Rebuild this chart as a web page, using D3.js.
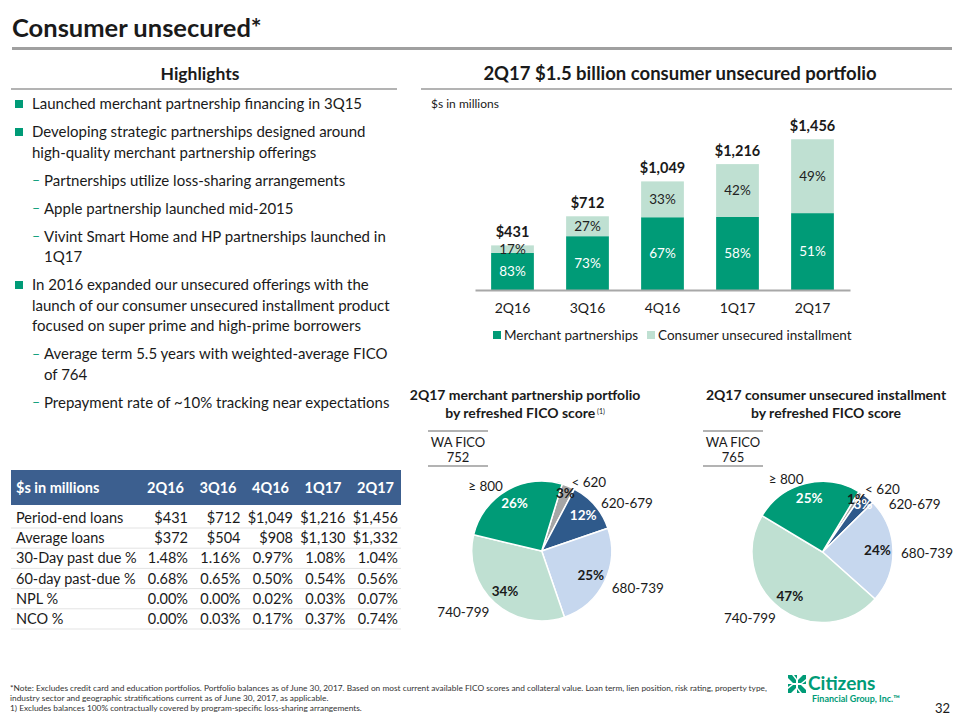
<!DOCTYPE html>
<html><head><meta charset="utf-8">
<script src="https://cdn.jsdelivr.net/npm/d3@7/dist/d3.min.js"></script>
<style>
body{margin:0;background:#fff}
svg{display:block}
text{font-family:Lato,"Open Sans",sans-serif;fill:#1a1a1a}
</style>
</head><body>
<svg id="chart" width="960" height="720"></svg>
<script>
// ---------------- DATA ----------------
const quarters = ["2Q16", "3Q16", "4Q16", "1Q17", "2Q17"];
const totals = [431, 712, 1049, 1216, 1456];
const merchantPct = [83, 73, 67, 58, 51];
const installmentPct = [17, 27, 33, 42, 49];
const seriesNames = ["Merchant partnerships", "Consumer unsecured installment"];

const ficoBands = ["< 620", "620-679", "680-739", "740-799", "≥ 800"];
const merchantFico = [3, 12, 25, 34, 26];
const installmentFico = [1, 3, 24, 47, 25];
const waFico = [752, 765];

const tableRowLabels = ["Period-end loans", "Average loans", "30-Day past due %", "60-day past-due %", "NPL %", "NCO %"];
const periodEndLoans = [431, 712, 1049, 1216, 1456];
const averageLoans = [372, 504, 908, 1130, 1332];
const pastDue30 = [1.48, 1.16, 0.97, 1.08, 1.04];
const pastDue60 = [0.68, 0.65, 0.50, 0.54, 0.56];
const nplPct = [0.00, 0.00, 0.02, 0.03, 0.07];
const ncoPct = [0.00, 0.03, 0.17, 0.37, 0.74];

const highlights = [
  [1, ["Launched merchant partnership financing in 3Q15"]],
  [1, ["Developing strategic partnerships designed around", "high-quality merchant partnership offerings"]],
  [2, ["Partnerships utilize loss-sharing arrangements"]],
  [2, ["Apple partnership launched mid-2015"]],
  [2, ["Vivint Smart Home and HP partnerships launched in", "1Q17"]],
  [1, ["In 2016 expanded our unsecured offerings with the", "launch of our consumer unsecured installment product", "focused on super prime and high-prime borrowers"]],
  [2, ["Average term 5.5 years with weighted-average FICO", "of 764"]],
  [2, ["Prepayment rate of ~10% tracking near expectations"]]
];

const footnotes = [
  "*Note: Excludes credit card and education portfolios. Portfolio balances as of June 30, 2017. Based on most current available FICO scores and collateral value. Loan term, lien position, risk rating, property type,",
  "industry sector and geographic stratifications current as of June 30, 2017, as applicable.",
  "1)  Excludes balances 100% contractually covered by program-specific loss-sharing arrangements."
];

// ---------------- STYLE ----------------
const GREEN = "#009b77", LIGHT_GREEN = "#bfe0d2", DARK_BLUE = "#2f5a8b",
      LIGHT_BLUE = "#c6d7ee", GRAY = "#a6a6a6", HEAD_BLUE = "#3c5f8f", RULE = "#b3b3b3";
const ficoColors = [GRAY, DARK_BLUE, LIGHT_BLUE, LIGHT_GREEN, GREEN];
const ficoInnerText = ["#1a1a1a", "#fff", "#1a1a1a", "#1a1a1a", "#fff"];

const svg = d3.select("#chart");

// ---------------- TITLE & HEADERS ----------------
svg.append("text").attr("x", 12).attr("y", 37).attr("font-size", 25.5).attr("font-weight", 700)
  .text("Consumer unsecured*");
svg.append("line").attr("x1", 12).attr("x2", 952).attr("y1", 48.5).attr("y2", 48.5)
  .attr("stroke", "#a0a0a0").attr("stroke-width", 3);

svg.append("text").attr("x", 200).attr("y", 74).attr("dy", "0.35em").attr("text-anchor", "middle")
  .attr("font-size", 17.5).attr("font-weight", 700).text("Highlights");
svg.append("line").attr("x1", 11).attr("x2", 397).attr("y1", 89).attr("y2", 89)
  .attr("stroke", RULE).attr("stroke-width", 2);
svg.append("text").attr("x", 680).attr("y", 74).attr("dy", "0.35em").attr("text-anchor", "middle")
  .attr("font-size", 18.5).attr("font-weight", 700).text("2Q17 $1.5 billion consumer unsecured portfolio");
svg.append("line").attr("x1", 421).attr("x2", 952).attr("y1", 89).attr("y2", 89)
  .attr("stroke", RULE).attr("stroke-width", 2);

// ---------------- HIGHLIGHTS ----------------
{
  let y = 104;
  const lh = 20.5, gap = 28;
  const g = svg.append("g");
  highlights.forEach(([lvl, lines], i) => {
    if (i > 0) y += gap;
    if (lvl === 1) {
      g.append("rect").attr("x", 15).attr("y", y - 4).attr("width", 8).attr("height", 8).attr("fill", GREEN);
    } else {
      g.append("text").attr("x", 32).attr("y", y).attr("dy", "0.35em").attr("font-size", 14)
        .style("fill", GREEN).text("–");
    }
    const tx = lvl === 1 ? 32 : 44;
    lines.forEach((ln, j) => {
      if (j > 0) y += lh;
      g.append("text").attr("x", tx).attr("y", y).attr("dy", "0.35em").attr("font-size", 15).text(ln);
    });
  });
}

// ---------------- BAR CHART ----------------
svg.append("text").attr("x", 431).attr("y", 104).attr("dy", "0.35em").attr("font-size", 12).text("$s in millions");

const x = d3.scaleBand().domain(quarters).range([475, 850]).paddingInner(0.43).paddingOuter(0.215);
const y = d3.scaleLinear().domain([0, 1500]).range([290, 134.7]);

const barData = quarters.map((q, i) => {
  const m = totals[i] * merchantPct[i] / 100;
  return { q, total: totals[i], m, mp: merchantPct[i], ip: installmentPct[i] };
});

const bars = svg.append("g");
bars.selectAll("rect.m").data(barData).join("rect").attr("class", "m")
  .attr("x", d => x(d.q)).attr("width", x.bandwidth())
  .attr("y", d => y(d.m)).attr("height", d => y(0) - y(d.m)).attr("fill", GREEN);
bars.selectAll("rect.i").data(barData).join("rect").attr("class", "i")
  .attr("x", d => x(d.q)).attr("width", x.bandwidth())
  .attr("y", d => y(d.total)).attr("height", d => y(d.m) - y(d.total)).attr("fill", LIGHT_GREEN);
bars.selectAll("text.mp").data(barData).join("text").attr("class", "mp")
  .attr("x", d => x(d.q) + x.bandwidth() / 2).attr("y", d => (y(0) + y(d.m)) / 2).attr("dy", "0.35em")
  .attr("text-anchor", "middle").attr("font-size", 13.5).style("fill", "#fff").text(d => d.mp + "%");
bars.selectAll("text.ip").data(barData).join("text").attr("class", "ip")
  .attr("x", d => x(d.q) + x.bandwidth() / 2).attr("y", d => (y(d.m) + y(d.total)) / 2).attr("dy", "0.35em")
  .attr("text-anchor", "middle").attr("font-size", 13.5).style("fill", "#222").text(d => d.ip + "%");
bars.selectAll("text.tot").data(barData).join("text").attr("class", "tot")
  .attr("x", d => x(d.q) + x.bandwidth() / 2).attr("y", d => y(d.total) - 8)
  .attr("text-anchor", "middle").attr("font-size", 14.5).attr("font-weight", 700)
  .text(d => "$" + d3.format(",")(d.total));

const xAxis = svg.append("g").attr("transform", `translate(0,${y(0)})`)
  .call(d3.axisBottom(x).tickSize(0).tickPadding(13));
xAxis.select(".domain").attr("stroke", "#a8a8a8").attr("stroke-width", 2);
xAxis.selectAll("text").attr("font-size", 14).style("font-family", "Lato").style("fill", "#1a1a1a");

// legend
const legendX = [493, 647];
const lg = svg.append("g");
seriesNames.forEach((n, i) => {
  lg.append("rect").attr("x", legendX[i]).attr("y", 331).attr("width", 8).attr("height", 8)
    .attr("fill", i === 0 ? GREEN : LIGHT_GREEN);
  lg.append("text").attr("x", legendX[i] + 11).attr("y", 335).attr("dy", "0.35em")
    .attr("font-size", 13.5).text(n);
});

// ---------------- PIES ----------------
function drawPie(cx, cy, r, values, startDeg, titleLines, titleCx, sup, fico, ficoCx) {
  const g = svg.append("g");
  titleLines.forEach((t, i) => {
    const tt = g.append("text").attr("x", titleCx).attr("y", 395 + i * 18).attr("dy", "0.35em")
      .attr("text-anchor", "middle").attr("font-size", 14).attr("font-weight", 700).text(t);
    if (i === 1 && sup) {
      tt.append("tspan").attr("font-size", 7).attr("dy", "-0.5em").attr("font-weight", 400).text(" " + sup);
    }
  });
  g.append("line").attr("x1", ficoCx - 30).attr("x2", ficoCx + 30).attr("y1", 431).attr("y2", 431)
    .attr("stroke", RULE).attr("stroke-width", 2);
  g.append("line").attr("x1", ficoCx - 30).attr("x2", ficoCx + 30).attr("y1", 466).attr("y2", 466)
    .attr("stroke", RULE).attr("stroke-width", 2);
  g.append("text").attr("x", ficoCx).attr("y", 442).attr("dy", "0.35em").attr("text-anchor", "middle")
    .attr("font-size", 13).text("WA FICO");
  g.append("text").attr("x", ficoCx).attr("y", 457).attr("dy", "0.35em").attr("text-anchor", "middle")
    .attr("font-size", 13).text(fico);

  const a0 = startDeg * Math.PI / 180;
  const pie = d3.pie().sort(null).startAngle(a0).endAngle(a0 + 2 * Math.PI);
  const arcs = pie(values);
  const arc = d3.arc().innerRadius(0).outerRadius(r);
  const pg = g.append("g").attr("transform", `translate(${cx},${cy})`);
  pg.selectAll("path").data(arcs).join("path").attr("d", arc)
    .attr("fill", (d, i) => ficoColors[i]).attr("stroke", "#fff").attr("stroke-width", 1.5);
  pg.selectAll("text.in").data(arcs).join("text").attr("class", "in")
    .attr("transform", d => {
      const rr = d.data < 5 ? r * 0.89 : r * 0.78;
      const c = d3.arc().innerRadius(rr).outerRadius(rr).centroid(d);
      return `translate(${c[0]},${c[1]})`;
    })
    .attr("dy", "0.35em").attr("text-anchor", "middle").attr("font-size", 13.5).attr("font-weight", 700)
    .style("fill", (d, i) => ficoInnerText[i]).text(d => d.data + "%");
  const R = r + 8;
  const pos = arcs.map((d, i) => {
    const a = (d.startAngle + d.endAngle) / 2;
    return { i, a, lx: R * Math.sin(a), ly: -R * Math.cos(a) + 3, right: Math.sin(a) > 0 };
  });
  const rightSide = pos.filter(p => p.right).sort((p, q) => p.ly - q.ly);
  for (let k = 1; k < rightSide.length; k++) {
    const prev = rightSide[k - 1], p = rightSide[k];
    if (p.ly < prev.ly + 15) {
      p.ly = prev.ly + 15;
      p.lx = Math.sqrt(Math.max(0, R * R - p.ly * p.ly)) + 4;
    }
  }
  pos.forEach(p => {
    pg.append("text").attr("x", p.lx).attr("y", p.ly).attr("dy", "0.35em")
      .attr("text-anchor", p.right ? "start" : "end").attr("font-size", 13.5)
      .text(ficoBands[p.i]);
  });
}
drawPie(541.7, 551, 70, merchantFico, 17,
  ["2Q17 merchant partnership portfolio", "by refreshed FICO score"], 525, "(1)", waFico[0], 458);
drawPie(822.5, 552, 70.5, installmentFico, 31,
  ["2Q17 consumer unsecured installment", "by refreshed FICO score"], 826, null, waFico[1], 733);

// ---------------- TABLE ----------------
{
  const g = svg.append("g");
  const col = d3.scaleBand().domain(quarters).range([137.5, 400]);
  g.append("rect").attr("x", 11).attr("y", 470).attr("width", 390).attr("height", 35).attr("fill", HEAD_BLUE);
  g.append("text").attr("x", 16).attr("y", 488).attr("dy", "0.35em").attr("font-size", 14.5)
    .attr("font-weight", 700).style("fill", "#fff").text("$s in millions");
  quarters.forEach(q => {
    g.append("text").attr("x", col(q) + col.bandwidth() - 6).attr("y", 488).attr("dy", "0.35em")
      .attr("text-anchor", "end").attr("font-size", 14.5).attr("font-weight", 700).style("fill", "#fff").text(q);
  });
  const money = v => "$" + d3.format(",")(v);
  const pct = v => d3.format(".2f")(v) + "%";
  const rows = [periodEndLoans.map(money), averageLoans.map(money), pastDue30.map(pct),
                pastDue60.map(pct), nplPct.map(pct), ncoPct.map(pct)];
  const rowY = d3.scaleLinear().domain([0, 1]).range([518, 538.2]);
  rows.forEach((vals, r) => {
    const yy = rowY(r);
    g.append("line").attr("x1", 11).attr("x2", 401).attr("y1", yy + 10).attr("y2", yy + 10)
      .attr("stroke", "#e3e3e3").attr("stroke-width", 1);
    g.append("text").attr("x", 16).attr("y", yy).attr("dy", "0.35em").attr("font-size", 14.5)
      .text(tableRowLabels[r]);
    vals.forEach((v, c) => {
      g.append("text").attr("x", col(quarters[c]) + col.bandwidth() - 2).attr("y", yy).attr("dy", "0.35em")
        .attr("text-anchor", "end").attr("font-size", 14.5).text(v);
    });
  });
}

// ---------------- FOOTNOTES ----------------
{
  const g = svg.append("g");
  const texts = footnotes.map((t, i) => g.append("text").attr("x", 0).attr("y", 691 + i * 10)
    .attr("font-size", 8.5).style("fill", "#333").text(t));
  const w = texts[0].node().getComputedTextLength();
  const s = 758 / w;
  g.attr("transform", `translate(10,0) scale(${s},1)`);
}

// ---------------- LOGO ----------------
{
  const g = svg.append("g").attr("transform", "translate(797,684)");
  [0, 90, 180, 270].forEach(r => {
    g.append("path").attr("d", "M-9,-9 L-5,-9 L-1,-4 L-1,-1 L-4,-1 L-9,-6 Z")
      .attr("transform", `rotate(${r})`).attr("fill", GREEN);
    g.append("path").attr("d", "M-3,-9 L0,-9 L0,-5 Z").attr("transform", `rotate(${r})`).attr("fill", GREEN);
  });
  svg.append("text").attr("x", 808).attr("y", 690).attr("font-size", 19).attr("font-weight", 700)
    .style("fill", GREEN).text("Citizens");
  svg.append("text").attr("x", 812).attr("y", 702).attr("font-size", 9).attr("font-weight", 700)
    .style("fill", GREEN).text("Financial Group, Inc.™");
  svg.append("text").attr("x", 950).attr("y", 713).attr("text-anchor", "end").attr("font-size", 13)
    .text("32");
}
</script>
</body></html>
